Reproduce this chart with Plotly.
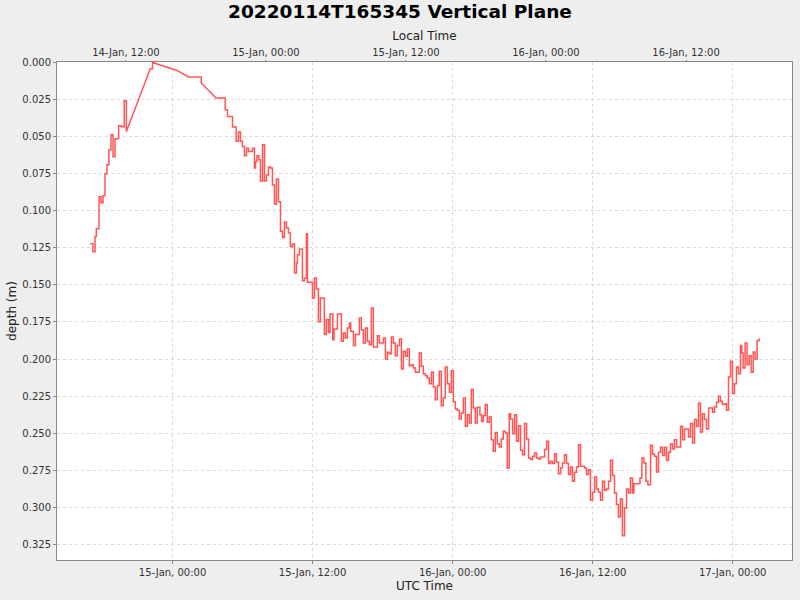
import pandas as pd
import plotly.graph_objects as go

title = "20220114T165345 Vertical Plane"
start = pd.Timestamp("2022-01-14 00:00")
local_offset_h = -8

# hours since 2022-01-14 00:00 UTC, depth in metres
hours_utc = [
    16.95, 17.18, 17.36, 17.47, 17.70, 17.87, 18.04, 18.21, 18.38, 18.55,
    18.73, 18.90, 19.07, 19.38, 19.61, 19.86, 20.04, 22.09, 22.29, 24.38,
    25.37, 26.46, 27.72,
    28.51, 28.71, 29.14, 29.45, 29.65, 29.82, 29.99, 30.16, 30.34, 30.51,
    30.85, 31.02, 31.11, 31.23, 31.40, 31.53, 31.71, 31.88, 32.05, 32.22,
    32.39, 32.56, 32.73, 32.90, 33.08, 33.25, 33.42, 33.59, 33.76, 33.93,
    34.10, 34.27, 34.45, 34.62, 34.70, 34.87, 35.13, 35.30, 35.47, 35.56,
    35.99, 36.16, 36.33, 36.50, 36.67, 37.01, 37.18, 37.36,
    37.50, 37.73, 37.84, 38.13, 38.47, 38.64, 38.81, 38.98, 39.16, 39.27,
    39.50, 39.67, 40.01, 40.18, 40.35, 40.53, 40.70, 40.87, 41.04, 41.21,
    41.55, 41.72, 42.07, 42.24, 42.41, 42.58, 42.75, 42.92, 43.09, 43.26,
    43.44, 43.61, 43.78, 43.95, 44.12, 44.29, 44.46, 44.63, 44.81, 45.15,
    45.32, 45.49, 45.66, 45.83, 46.00, 46.18, 46.35, 46.52, 46.69, 46.86,
    47.03, 47.20, 47.37, 47.55, 47.72, 47.89, 48.06, 48.23, 48.40, 48.57,
    48.74, 48.92, 49.09, 49.26, 49.43, 49.60, 49.77, 49.94, 50.11,
    50.34, 50.48, 50.63, 50.80, 50.97, 51.14, 51.31, 51.48, 51.65, 51.82,
    52.00, 52.17, 52.34, 52.51, 52.68, 52.85, 52.97, 53.14, 53.31, 53.48,
    53.65, 53.82, 53.99, 54.16, 54.34, 54.51, 54.68, 54.85, 55.02, 55.19,
    55.36, 55.53, 55.88, 56.05, 56.22, 56.39, 56.56, 56.73, 56.90, 57.07,
    57.25, 57.42, 57.59, 57.76, 57.93, 58.10, 58.27, 58.44, 58.62, 58.79,
    58.96, 59.30, 59.47, 59.64, 59.81, 59.99, 60.16, 60.33, 60.50, 60.67,
    60.84, 61.01, 61.18, 61.36, 61.53, 61.70, 61.87, 62.04, 62.21, 62.38,
    62.55, 62.73, 62.90, 63.07, 63.24,
    63.42, 63.53, 64.05, 64.22, 64.39, 64.56, 64.73, 64.96, 65.13, 65.30,
    65.47, 65.64, 65.82, 65.99, 66.16, 66.33, 66.50, 66.67, 66.84, 67.01,
    67.19, 67.53, 67.70, 67.87, 68.21, 68.38, 68.56, 68.73, 68.90, 69.07,
    69.24, 69.41, 69.58, 69.75, 69.93, 70.27, 70.44, 70.61, 70.78, 70.95,
    71.12, 71.30, 71.47, 71.64, 71.81, 71.98, 72.15, 72.32, 72.49, 72.67,
    72.78, 72.89, 73.06, 73.23, 73.41, 73.58, 73.75, 73.92, 74.09, 74.26,
    74.35,
]
depth_m = [
    0.1223, 0.1277, 0.1174, 0.1122, 0.0907, 0.0947, 0.0900, 0.0752, 0.0691, 0.0590,
    0.0489, 0.0637, 0.0516, 0.0429, 0.0435, 0.0260, 0.0469, 0.0045, 0.0003, 0.0057,
    0.0101, 0.0141, 0.0242,
    0.0321, 0.0366, 0.0437, 0.0534, 0.0471, 0.0534, 0.0568, 0.0631, 0.0581, 0.0602,
    0.0581, 0.0713, 0.0669, 0.0631, 0.0658, 0.0801, 0.0557, 0.0801, 0.0760, 0.0707,
    0.0713, 0.0828, 0.0956, 0.0787, 0.0940, 0.1140, 0.1182, 0.1077, 0.1117, 0.1151,
    0.1243, 0.1225, 0.1420, 0.1353, 0.1297, 0.1259, 0.1472, 0.1456, 0.1156, 0.1483,
    0.1588, 0.1454, 0.1528, 0.1748, 0.1588, 0.1835, 0.1734, 0.1820,
    0.1696, 0.1869, 0.1797, 0.1696, 0.1880, 0.1824, 0.1858, 0.1790, 0.1757, 0.1813,
    0.1909, 0.1835, 0.1723, 0.1802, 0.1891, 0.1790, 0.1880, 0.1903, 0.1656, 0.1918,
    0.1842, 0.1891, 0.1858, 0.1999, 0.1954, 0.1963, 0.1851, 0.1891, 0.1977, 0.1909,
    0.1864, 0.2066, 0.1947, 0.1981, 0.1932, 0.2044, 0.2037, 0.2060, 0.2089, 0.1959,
    0.2048, 0.2098, 0.2111, 0.2127, 0.2165, 0.2089, 0.2187, 0.2273, 0.2178, 0.2082,
    0.2313, 0.2261, 0.2053, 0.2165, 0.2223, 0.2078, 0.2288, 0.2335, 0.2344, 0.2403,
    0.2362, 0.2261, 0.2452, 0.2374, 0.2430, 0.2205, 0.2329, 0.2430, 0.2324,
    0.2374, 0.2419, 0.2380, 0.2306, 0.2425, 0.2389, 0.2542, 0.2620, 0.2493, 0.2569,
    0.2591, 0.2537, 0.2486, 0.2497, 0.2733, 0.2367, 0.2403, 0.2502, 0.2374, 0.2553,
    0.2448, 0.2614, 0.2643, 0.2434, 0.2537, 0.2665, 0.2676, 0.2654, 0.2632, 0.2665,
    0.2672, 0.2659, 0.2609, 0.2553, 0.2703, 0.2688, 0.2703, 0.2636, 0.2694, 0.2771,
    0.2733, 0.2699, 0.2643, 0.2703, 0.2777, 0.2726, 0.2822, 0.2762, 0.2726, 0.2576,
    0.2721, 0.2733, 0.2777, 0.2744, 0.2950, 0.2896, 0.2793, 0.2874, 0.2896, 0.2950,
    0.2822, 0.2883, 0.2874, 0.2822, 0.2681, 0.2784, 0.2901, 0.2979, 0.3062, 0.2941,
    0.3188, 0.3002, 0.2874, 0.2901, 0.2800,
    0.2901, 0.2838, 0.2800, 0.2665, 0.2699, 0.2822, 0.2845, 0.2580, 0.2638, 0.2654,
    0.2759, 0.2627, 0.2593, 0.2649, 0.2593, 0.2683, 0.2627, 0.2571, 0.2605, 0.2542,
    0.2591, 0.2452, 0.2542, 0.2470, 0.2524, 0.2434, 0.2564, 0.2407, 0.2452, 0.2295,
    0.2490, 0.2367, 0.2407, 0.2470, 0.2329, 0.2358, 0.2322, 0.2291, 0.2250, 0.2284,
    0.2306, 0.2300, 0.2344, 0.2120, 0.2015, 0.2232, 0.2165, 0.2053, 0.2098, 0.1909,
    0.1959, 0.2060, 0.1891, 0.2037, 0.1977, 0.2089, 0.1952, 0.1999, 0.1876, 0.1864,
    0.1864,
]
# samples after which the record has a gap (drawn as a straight ramp)
ramp_from = [20.04, 22.29, 24.38, 26.46]

# build step path, ramps where there are gaps
xs = []
ys = []
for i in range(len(hours_utc)):
    xs.append(hours_utc[i])
    ys.append(depth_m[i])
    if i + 1 < len(hours_utc) and hours_utc[i] not in ramp_from:
        xs.append(hours_utc[i + 1])
        ys.append(depth_m[i])

t_utc = start + pd.to_timedelta(xs, unit="h")
t_local = t_utc + pd.Timedelta(hours=local_offset_h)

x_range = [start + pd.Timedelta(hours=14.10), start + pd.Timedelta(hours=77.08)]
x2_range = [x + pd.Timedelta(hours=local_offset_h) for x in x_range]

fig = go.Figure()
fig.add_trace(go.Scatter(x=t_utc, y=ys, mode="lines",
                         line=dict(color="#FF5555", width=1.5),
                         showlegend=False))
fig.add_trace(go.Scatter(x=t_local, y=ys, mode="lines", xaxis="x2",
                         line=dict(color="rgba(0,0,0,0)", width=0),
                         hoverinfo="skip", showlegend=False))

tick_font = dict(family="DejaVu Sans", size=10, color="#333333")
axis_font = dict(family="DejaVu Sans", size=12, color="#222222")

fig.update_layout(
    width=800, height=600,
    paper_bgcolor="#EEEEEE", plot_bgcolor="white",
    margin=dict(l=57, r=8, t=62, b=40),
    title=dict(text="<b>" + title + "</b>", x=0.5, xref="container",
               y=0.98, yref="container", yanchor="middle",
               font=dict(family="DejaVu Sans", size=18.5, color="black")),
    xaxis=dict(type="date", range=x_range, tickformat="%d-%b, %H:%M",
               tick0="2022-01-15 00:00", dtick=43200000,
               title=dict(text="UTC Time", font=axis_font, standoff=4),
               tickfont=tick_font, ticks="outside", ticklen=3, tickcolor="#888888",
               showline=True, linecolor="#888888", linewidth=1,
               showgrid=True, gridcolor="#DADADA", griddash="3px,3px", gridwidth=1,
               zeroline=False),
    xaxis2=dict(type="date", range=x2_range, overlaying="x", side="top",
                tickformat="%d-%b, %H:%M", tick0="2022-01-14 12:00", dtick=43200000,
                title=dict(text="Local Time", font=axis_font, standoff=3),
                tickfont=tick_font, ticks="outside", ticklen=1, tickcolor="#888888",
                showline=True, linecolor="#888888", linewidth=1,
                showgrid=False, zeroline=False),
    yaxis=dict(range=[0.3352, 0.0], tickformat=".3f", dtick=0.025, tick0=0,
               title=dict(text="depth (m)", font=axis_font, standoff=3),
               tickfont=tick_font, ticks="outside", ticklen=3, tickcolor="#888888",
               showline=True, linecolor="#888888", linewidth=1, mirror=True,
               showgrid=True, gridcolor="#DADADA", griddash="3px,3px", gridwidth=1,
               zeroline=False),
)

# drop the page's default body margin so the figure sits at the window corner
fig.write_html("out.html", config={"displayModeBar": False},
               post_script="document.body.style.margin='0';")
